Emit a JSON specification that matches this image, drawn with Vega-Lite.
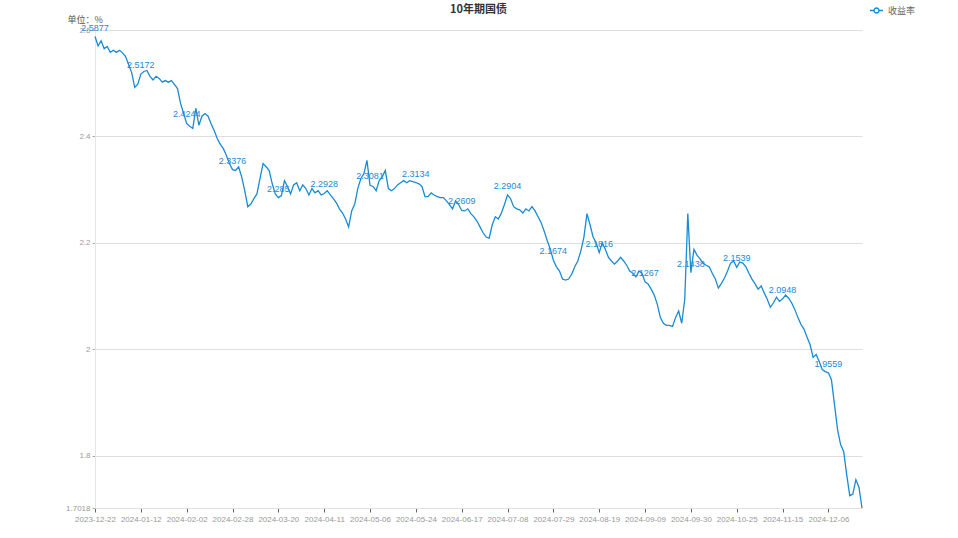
{
  "$schema": "https://vega.github.io/schema/vega-lite/v6.json",
  "autosize": "none",
  "width": 767,
  "height": 478,
  "padding": {"left": 95, "top": 30, "right": 96, "bottom": 30},
  "background": "white",
  "title": {"text": "10年期国债", "anchor": "middle", "fontSize": 11, "fontWeight": "bold", "color": "#333", "font": "Noto Sans CJK SC", "offset": 2, "dy": 14},
  "config": {"view": {"stroke": null}, "font": "Liberation Sans"},
  "data": {"values": [
    {"d":"2023-12-22","v":2.5877},{"d":"2023-12-25","v":2.570},{"d":"2023-12-26","v":2.580},{"d":"2023-12-27","v":2.565},{"d":"2023-12-28","v":2.569},{"d":"2023-12-29","v":2.558},{"d":"2023-12-30","v":2.562},{"d":"2024-01-02","v":2.558},{"d":"2024-01-03","v":2.562},{"d":"2024-01-04","v":2.557},{"d":"2024-01-05","v":2.550},{"d":"2024-01-08","v":2.535},{"d":"2024-01-09","v":2.520},{"d":"2024-01-10","v":2.492},{"d":"2024-01-11","v":2.498},
    {"d":"2024-01-12","v":2.5172},{"d":"2024-01-15","v":2.522},{"d":"2024-01-16","v":2.524},{"d":"2024-01-17","v":2.513},{"d":"2024-01-18","v":2.506},{"d":"2024-01-19","v":2.513},{"d":"2024-01-22","v":2.509},{"d":"2024-01-23","v":2.502},{"d":"2024-01-24","v":2.505},{"d":"2024-01-25","v":2.502},{"d":"2024-01-26","v":2.505},{"d":"2024-01-29","v":2.498},{"d":"2024-01-30","v":2.490},{"d":"2024-01-31","v":2.462},{"d":"2024-02-01","v":2.443},
    {"d":"2024-02-02","v":2.4244},{"d":"2024-02-04","v":2.419},{"d":"2024-02-05","v":2.415},{"d":"2024-02-06","v":2.453},{"d":"2024-02-07","v":2.421},{"d":"2024-02-08","v":2.438},{"d":"2024-02-09","v":2.443},{"d":"2024-02-18","v":2.438},{"d":"2024-02-19","v":2.424},{"d":"2024-02-20","v":2.411},{"d":"2024-02-21","v":2.396},{"d":"2024-02-22","v":2.385},{"d":"2024-02-23","v":2.377},{"d":"2024-02-26","v":2.364},{"d":"2024-02-27","v":2.349},
    {"d":"2024-02-28","v":2.3376},{"d":"2024-02-29","v":2.336},{"d":"2024-03-01","v":2.343},{"d":"2024-03-04","v":2.324},{"d":"2024-03-05","v":2.298},{"d":"2024-03-06","v":2.268},{"d":"2024-03-07","v":2.273},{"d":"2024-03-08","v":2.283},{"d":"2024-03-11","v":2.292},{"d":"2024-03-12","v":2.321},{"d":"2024-03-13","v":2.349},{"d":"2024-03-14","v":2.343},{"d":"2024-03-15","v":2.336},{"d":"2024-03-18","v":2.311},{"d":"2024-03-19","v":2.292},
    {"d":"2024-03-20","v":2.285},{"d":"2024-03-21","v":2.289},{"d":"2024-03-22","v":2.317},{"d":"2024-03-25","v":2.306},{"d":"2024-03-26","v":2.292},{"d":"2024-03-27","v":2.309},{"d":"2024-03-28","v":2.313},{"d":"2024-03-29","v":2.298},{"d":"2024-04-01","v":2.309},{"d":"2024-04-02","v":2.302},{"d":"2024-04-03","v":2.290},{"d":"2024-04-07","v":2.302},{"d":"2024-04-08","v":2.294},{"d":"2024-04-09","v":2.298},{"d":"2024-04-10","v":2.290},
    {"d":"2024-04-11","v":2.2928},{"d":"2024-04-12","v":2.298},{"d":"2024-04-15","v":2.290},{"d":"2024-04-16","v":2.283},{"d":"2024-04-17","v":2.275},{"d":"2024-04-18","v":2.264},{"d":"2024-04-19","v":2.256},{"d":"2024-04-22","v":2.245},{"d":"2024-04-23","v":2.230},{"d":"2024-04-24","v":2.260},{"d":"2024-04-25","v":2.273},{"d":"2024-04-26","v":2.302},{"d":"2024-04-28","v":2.321},{"d":"2024-04-29","v":2.330},{"d":"2024-04-30","v":2.355},
    {"d":"2024-05-06","v":2.3081},{"d":"2024-05-07","v":2.306},{"d":"2024-05-08","v":2.298},{"d":"2024-05-09","v":2.317},{"d":"2024-05-10","v":2.324},{"d":"2024-05-11","v":2.336},{"d":"2024-05-13","v":2.302},{"d":"2024-05-14","v":2.298},{"d":"2024-05-15","v":2.302},{"d":"2024-05-16","v":2.309},{"d":"2024-05-17","v":2.313},{"d":"2024-05-20","v":2.317},{"d":"2024-05-21","v":2.313},{"d":"2024-05-22","v":2.317},{"d":"2024-05-23","v":2.315},
    {"d":"2024-05-24","v":2.3134},{"d":"2024-05-27","v":2.311},{"d":"2024-05-28","v":2.306},{"d":"2024-05-29","v":2.287},{"d":"2024-05-30","v":2.287},{"d":"2024-05-31","v":2.294},{"d":"2024-06-03","v":2.290},{"d":"2024-06-04","v":2.287},{"d":"2024-06-05","v":2.285},{"d":"2024-06-06","v":2.285},{"d":"2024-06-07","v":2.279},{"d":"2024-06-11","v":2.272},{"d":"2024-06-12","v":2.264},{"d":"2024-06-13","v":2.279},{"d":"2024-06-14","v":2.272},
    {"d":"2024-06-17","v":2.2609},{"d":"2024-06-18","v":2.260},{"d":"2024-06-19","v":2.264},{"d":"2024-06-20","v":2.255},{"d":"2024-06-21","v":2.249},{"d":"2024-06-24","v":2.241},{"d":"2024-06-25","v":2.230},{"d":"2024-06-26","v":2.219},{"d":"2024-06-27","v":2.211},{"d":"2024-06-28","v":2.209},{"d":"2024-07-01","v":2.234},{"d":"2024-07-02","v":2.249},{"d":"2024-07-03","v":2.245},{"d":"2024-07-04","v":2.256},{"d":"2024-07-05","v":2.272},
    {"d":"2024-07-08","v":2.2904},{"d":"2024-07-09","v":2.283},{"d":"2024-07-10","v":2.268},{"d":"2024-07-11","v":2.264},{"d":"2024-07-12","v":2.262},{"d":"2024-07-15","v":2.256},{"d":"2024-07-16","v":2.264},{"d":"2024-07-17","v":2.260},{"d":"2024-07-18","v":2.268},{"d":"2024-07-19","v":2.260},{"d":"2024-07-22","v":2.249},{"d":"2024-07-23","v":2.238},{"d":"2024-07-24","v":2.222},{"d":"2024-07-25","v":2.204},{"d":"2024-07-26","v":2.188},
    {"d":"2024-07-29","v":2.1674},{"d":"2024-07-30","v":2.155},{"d":"2024-07-31","v":2.147},{"d":"2024-08-01","v":2.132},{"d":"2024-08-02","v":2.130},{"d":"2024-08-05","v":2.132},{"d":"2024-08-06","v":2.141},{"d":"2024-08-07","v":2.155},{"d":"2024-08-08","v":2.166},{"d":"2024-08-09","v":2.185},{"d":"2024-08-12","v":2.211},{"d":"2024-08-13","v":2.255},{"d":"2024-08-14","v":2.234},{"d":"2024-08-15","v":2.211},{"d":"2024-08-16","v":2.200},
    {"d":"2024-08-19","v":2.1816},{"d":"2024-08-20","v":2.200},{"d":"2024-08-21","v":2.188},{"d":"2024-08-22","v":2.173},{"d":"2024-08-23","v":2.166},{"d":"2024-08-26","v":2.160},{"d":"2024-08-27","v":2.166},{"d":"2024-08-28","v":2.173},{"d":"2024-08-29","v":2.166},{"d":"2024-08-30","v":2.158},{"d":"2024-09-02","v":2.147},{"d":"2024-09-03","v":2.143},{"d":"2024-09-04","v":2.136},{"d":"2024-09-05","v":2.147},{"d":"2024-09-06","v":2.143},
    {"d":"2024-09-09","v":2.1267},{"d":"2024-09-10","v":2.123},{"d":"2024-09-11","v":2.113},{"d":"2024-09-12","v":2.102},{"d":"2024-09-13","v":2.085},{"d":"2024-09-14","v":2.060},{"d":"2024-09-18","v":2.049},{"d":"2024-09-19","v":2.045},{"d":"2024-09-20","v":2.045},{"d":"2024-09-23","v":2.043},{"d":"2024-09-24","v":2.060},{"d":"2024-09-25","v":2.072},{"d":"2024-09-26","v":2.049},{"d":"2024-09-27","v":2.094},{"d":"2024-09-29","v":2.255},
    {"d":"2024-09-30","v":2.1438},{"d":"2024-10-08","v":2.188},{"d":"2024-10-09","v":2.177},{"d":"2024-10-10","v":2.170},{"d":"2024-10-11","v":2.162},{"d":"2024-10-12","v":2.158},{"d":"2024-10-14","v":2.155},{"d":"2024-10-15","v":2.143},{"d":"2024-10-16","v":2.132},{"d":"2024-10-17","v":2.115},{"d":"2024-10-18","v":2.124},{"d":"2024-10-21","v":2.134},{"d":"2024-10-22","v":2.147},{"d":"2024-10-23","v":2.162},{"d":"2024-10-24","v":2.166},
    {"d":"2024-10-25","v":2.1539},{"d":"2024-10-28","v":2.164},{"d":"2024-10-29","v":2.162},{"d":"2024-10-30","v":2.155},{"d":"2024-10-31","v":2.143},{"d":"2024-11-01","v":2.132},{"d":"2024-11-04","v":2.123},{"d":"2024-11-05","v":2.113},{"d":"2024-11-06","v":2.119},{"d":"2024-11-07","v":2.106},{"d":"2024-11-08","v":2.094},{"d":"2024-11-11","v":2.079},{"d":"2024-11-12","v":2.087},{"d":"2024-11-13","v":2.098},{"d":"2024-11-14","v":2.090},
    {"d":"2024-11-15","v":2.0948},{"d":"2024-11-18","v":2.102},{"d":"2024-11-19","v":2.096},{"d":"2024-11-20","v":2.087},{"d":"2024-11-21","v":2.075},{"d":"2024-11-22","v":2.060},{"d":"2024-11-25","v":2.047},{"d":"2024-11-26","v":2.038},{"d":"2024-11-27","v":2.023},{"d":"2024-11-28","v":2.009},{"d":"2024-11-29","v":1.985},{"d":"2024-12-02","v":1.990},{"d":"2024-12-03","v":1.977},{"d":"2024-12-04","v":1.962},{"d":"2024-12-05","v":1.958},
    {"d":"2024-12-06","v":1.9559},{"d":"2024-12-09","v":1.943},{"d":"2024-12-10","v":1.896},{"d":"2024-12-11","v":1.849},{"d":"2024-12-12","v":1.821},{"d":"2024-12-13","v":1.808},{"d":"2024-12-16","v":1.764},{"d":"2024-12-17","v":1.725},{"d":"2024-12-18","v":1.728},{"d":"2024-12-19","v":1.755},{"d":"2024-12-20","v":1.741},{"d":"2024-12-23","v":1.7018}
  ]},
  "encoding": {
    "x": {"field": "d", "type": "ordinal", "sort": null,
      "scale": {"type": "point", "padding": 0},
      "axis": {"title": null, "labelAngle": 0, "labelFontSize": 8, "labelColor": "#999", "labelPadding": 3,
        "values": ["2023-12-22","2024-01-12","2024-02-02","2024-02-28","2024-03-20","2024-04-11","2024-05-06","2024-05-24","2024-06-17","2024-07-08","2024-07-29","2024-08-19","2024-09-09","2024-09-30","2024-10-25","2024-11-15","2024-12-06"],
        "domainColor": "#e0e0e0", "tickColor": "#666", "tickSize": 4, "grid": false}},
    "y": {"field": "v", "type": "quantitative",
      "scale": {"domain": [1.7018, 2.6], "zero": false, "nice": false},
      "axis": {"title": "单位：%", "titleAngle": 0, "titleAlign": "left", "titleBaseline": "bottom", "titleX": -28, "titleY": -6, "titleFont": "Noto Sans CJK SC", "titleFontSize": 9, "titleFontWeight": "normal", "titleColor": "#555",
        "values": [1.7018, 1.8, 2.0, 2.2, 2.4, 2.6], "format": ".5~g", "labelFontSize": 8, "labelColor": "#999", "labelPadding": 2,
        "domainColor": "#e6e6e6", "tickColor": "#aaa", "tickSize": 3, "grid": true, "gridColor": "#dedede"}}
  },
  "layer": [
    {"mark": {"type": "line", "strokeWidth": 1.3, "interpolate": "linear"},
     "encoding": {"color": {"datum": "收益率", "type": "nominal",
        "scale": {"range": ["#1a8ad4"]},
        "legend": {"title": null, "orient": "none", "legendX": 774, "legendY": -27, "labelFont": "Noto Sans CJK SC", "labelFontSize": 9, "labelColor": "#666",
          "symbolType": "M-1,0L-0.38,0M0.38,0L1,0M0.38,0A0.38,0.38 0 1 1 -0.38,0A0.38,0.38 0 1 1 0.38,0", "symbolSize": 170, "symbolFillColor": "white", "symbolStrokeWidth": 1.3}}}},
    {"transform": [{"filter": {"field": "d", "oneOf": ["2023-12-22","2024-01-12","2024-02-02","2024-02-28","2024-03-20","2024-04-11","2024-05-06","2024-05-24","2024-06-17","2024-07-08","2024-07-29","2024-08-19","2024-09-09","2024-09-30","2024-10-25","2024-11-15","2024-12-06"]}}],
     "mark": {"type": "text", "baseline": "bottom", "dy": -4, "fontSize": 9, "color": "#1a8ad4", "font": "Liberation Sans"},
     "encoding": {"text": {"field": "v", "type": "quantitative", "format": ".4~f"}}}
  ]
}
